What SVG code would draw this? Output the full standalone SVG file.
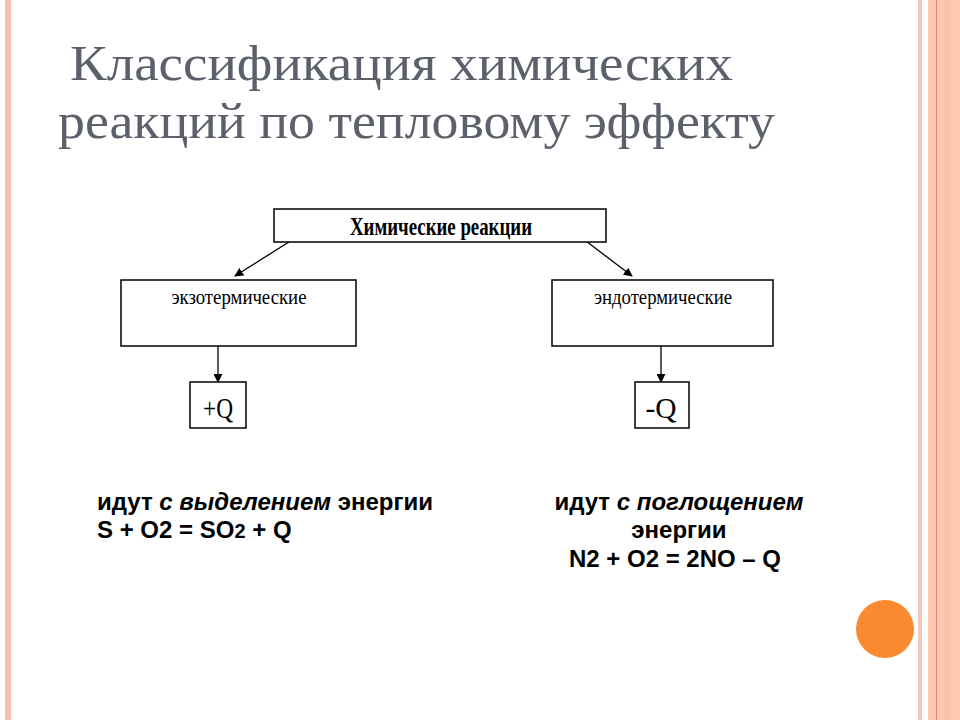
<svg xmlns="http://www.w3.org/2000/svg" width="960" height="720" viewBox="0 0 960 720">
<style>
.title{font-family:"Liberation Serif","DejaVu Serif",serif;font-size:50px;fill:#5b606b}
.box{fill:#fff;stroke:#000;stroke-width:1.5}
.lbl{font-family:"Liberation Serif","DejaVu Serif",serif;fill:#000}
.txt{font-family:"Liberation Sans",Arial,sans-serif;font-weight:bold;font-size:24px;fill:#000}
.con{stroke:#000;stroke-width:1.3;fill:none}
</style>
<defs>
<marker id="ah" viewBox="0 0 10 10" refX="9" refY="5" markerWidth="9" markerHeight="9" markerUnits="userSpaceOnUse" orient="auto">
<path d="M0,0 L10,5 L0,10 z" fill="#000"/>
</marker>
</defs>
<rect width="960" height="720" fill="#fff"/>
<g id="frame">
<rect x="5" y="0" width="6" height="720" fill="#f4c0b0"/>
<rect x="918" y="0" width="4" height="720" fill="#f0c8bc"/>
<rect x="928" y="0" width="32" height="720" fill="#fcc8b4"/>
<rect x="936" y="0" width="1" height="720" fill="#e08870"/>
<rect x="944" y="0" width="6" height="720" fill="#f9bfa8"/>
</g>
<g id="title">
<text class="title" x="70" y="80" textLength="663" lengthAdjust="spacingAndGlyphs">Классификация  химических</text>
<text class="title" x="58" y="138" textLength="717" lengthAdjust="spacingAndGlyphs">реакций по тепловому эффекту</text>
</g>
<g id="connectors">
<line class="con" x1="300" y1="235" x2="235" y2="276" marker-end="url(#ah)"/>
<line class="con" x1="578" y1="235" x2="632" y2="276" marker-end="url(#ah)"/>
<line class="con" x1="218" y1="321" x2="218" y2="382" marker-end="url(#ah)"/>
<line class="con" x1="661" y1="321" x2="661" y2="382" marker-end="url(#ah)"/>
</g>
<g id="node-root">
<rect class="box" x="274" y="209" width="332" height="33"/>
<text class="lbl" x="441" y="235" font-size="25" font-weight="bold" text-anchor="middle" textLength="182" lengthAdjust="spacingAndGlyphs">Химические  реакции</text>
</g>
<g id="node-exo">
<rect class="box" x="121" y="280" width="235" height="66"/>
<text class="lbl" x="239" y="304" font-size="22" text-anchor="middle" textLength="135" lengthAdjust="spacingAndGlyphs">экзотермические</text>
</g>
<g id="node-endo">
<rect class="box" x="552" y="280" width="221" height="66"/>
<text class="lbl" x="663" y="304" font-size="22" text-anchor="middle" textLength="138" lengthAdjust="spacingAndGlyphs">эндотермические</text>
</g>
<g id="node-plusq">
<rect class="box" x="190" y="382" width="56" height="46"/>
<text class="lbl" x="218" y="418" font-size="30" text-anchor="middle" textLength="30" lengthAdjust="spacingAndGlyphs">+Q</text>
</g>
<g id="node-minusq">
<rect class="box" x="635" y="382" width="54" height="46"/>
<text class="lbl" x="661" y="418" font-size="30" text-anchor="middle" textLength="31" lengthAdjust="spacingAndGlyphs">-Q</text>
</g>
<g id="text-left">
<text class="txt" x="97" y="510">идут <tspan font-style="italic">с выделением</tspan> энергии</text>
<text class="txt" x="97" y="538">S + O2 = SO<tspan font-size="20">2</tspan> + Q</text>
</g>
<g id="text-right">
<text class="txt" x="679" y="510" text-anchor="middle">идут <tspan font-style="italic">с поглощением</tspan></text>
<text class="txt" x="679" y="538" text-anchor="middle">энергии</text>
<text class="txt" x="675" y="567" text-anchor="middle">N2 + O2 = 2NO – Q</text>
</g>
<circle id="dot" cx="885" cy="629" r="29" fill="#fb8a30"/>
</svg>
